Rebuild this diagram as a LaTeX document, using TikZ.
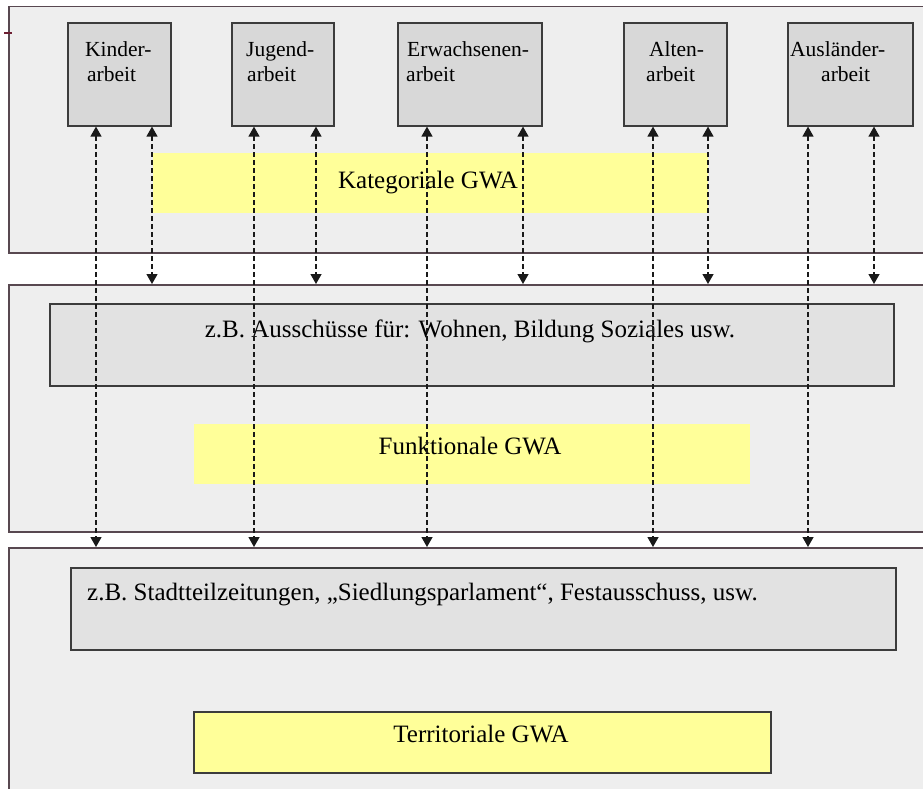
\documentclass[tikz,border=0pt]{standalone}
\usepackage{fontspec}
\setmainfont{Liberation Serif}
\usetikzlibrary{arrows.meta}
\definecolor{framefill}{RGB}{238,238,238}
\definecolor{framedraw}{RGB}{88,72,80}
\definecolor{topfill}{RGB}{216,216,216}
\definecolor{midfill}{RGB}{226,226,226}
\definecolor{yel}{RGB}{255,255,153}
\definecolor{boxdraw}{RGB}{60,60,60}
\definecolor{tickred}{RGB}{110,30,50}
\tikzset{
  frame/.style={draw=framedraw, fill=framefill, line width=1.5pt, rectangle, anchor=north west, inner sep=0pt},
  catbox/.style={draw=boxdraw, fill=topfill, line width=1.6pt, rectangle, anchor=north west, inner sep=0pt},
  graybox/.style={draw=boxdraw, fill=midfill, line width=1.6pt, rectangle, anchor=north west, inner sep=0pt},
  yelbox/.style={fill=yel, rectangle, anchor=north west, inner sep=0pt},
  yelboxd/.style={draw=boxdraw, fill=yel, line width=1.6pt, rectangle, anchor=north west, inner sep=0pt},
  smalltxt/.style={font=\fontsize{21.5}{25}\selectfont, inner sep=0pt, anchor=base west},
  bigtxt/.style={font=\fontsize{25}{30}\selectfont, inner sep=0pt, anchor=base},
  arr/.style={draw=black!90, line width=1.3pt, dash pattern=on 4.5pt off 3.5pt,
    {Triangle[width=11pt,length=10pt]}-{Triangle[width=11pt,length=10pt]}}
}
\begin{document}
\begin{tikzpicture}[x=1pt,y=-1pt]
\clip (0,0) rectangle (923,789);
\fill[white] (0,0) rectangle (923,789);
% frames
\node[frame, minimum width=940pt, minimum height=246pt] (frame1) at (8,6) {};
\node[frame, minimum width=940pt, minimum height=247pt] (frame2) at (8,284) {};
\node[frame, minimum width=940pt, minimum height=280pt] (frame3) at (8,547) {};
\draw[tickred, line width=1.2pt] (4,33) -- (12,33);
% top category boxes
\node[catbox, minimum width=103pt, minimum height=103pt] (kinder) at (67,22) {};
\node[catbox, minimum width=102pt, minimum height=103pt] (jugend) at (231,22) {};
\node[catbox, minimum width=144pt, minimum height=103pt] (erw) at (397,22) {};
\node[catbox, minimum width=103pt, minimum height=103pt] (alten) at (623,22) {};
\node[catbox, minimum width=125pt, minimum height=103pt] (ausl) at (787,22) {};
\node[smalltxt] (kt1) at (85,57) {Kinder-};
\node[smalltxt] (kt2) at (87,82) {arbeit};
\node[smalltxt] (jt1) at (246,57) {Jugend-};
\node[smalltxt] (jt2) at (247,82) {arbeit};
\node[smalltxt] (et1) at (407,57) {Erwachsenen-};
\node[smalltxt] (et2) at (406,82) {arbeit};
\node[smalltxt] (at1) at (649,57) {Alten-};
\node[smalltxt] (at2) at (646,82) {arbeit};
\node[smalltxt] (ut1) at (790,57) {Ausländer-};
\node[smalltxt] (ut2) at (821,82) {arbeit};
% yellow / gray boxes
\node[yelbox, minimum width=555pt, minimum height=60pt] (kat) at (153,153) {};
\node[bigtxt] (katt) at (428,188) {Kategoriale GWA};
\node[graybox, minimum width=844pt, minimum height=82pt] (aus) at (49,303) {};
\node[bigtxt] (aust) at (470,337) {z.B. Ausschüsse für: Wohnen, Bildung Soziales usw.};
\node[yelbox, minimum width=556pt, minimum height=60pt] (fun) at (194,424) {};
\node[bigtxt] (funt) at (470,454) {Funktionale GWA};
\node[graybox, minimum width=825pt, minimum height=82pt] (sta) at (70,567) {};
\node[bigtxt, anchor=base west] (stat) at (87,600) {z.B. Stadtteilzeitungen, „Siedlungsparlament“, Festausschuss, usw.};
\node[yelboxd, minimum width=577pt, minimum height=61pt] (ter) at (193,711) {};
\node[bigtxt] (tert) at (481,742) {Territoriale GWA};
% connectors
\coordinate (k1) at ([xshift=29pt]kinder.south west);
\coordinate (k2) at ([xshift=85pt]kinder.south west);
\coordinate (j1) at ([xshift=23pt]jugend.south west);
\coordinate (j2) at ([xshift=85pt]jugend.south west);
\coordinate (e1) at ([xshift=30pt]erw.south west);
\coordinate (e2) at ([xshift=126pt]erw.south west);
\coordinate (a1) at ([xshift=30pt]alten.south west);
\coordinate (a2) at ([xshift=85pt]alten.south west);
\coordinate (u1) at ([xshift=21pt]ausl.south west);
\coordinate (u2) at ([xshift=87pt]ausl.south west);
\foreach \c in {k1,j1,e1,a1,u1} {
  \draw[arr] (\c) -- (\c |- frame3.north);
}
\foreach \c in {k2,j2,e2,a2,u2} {
  \draw[arr] (\c) -- (\c |- frame2.north);
}
\end{tikzpicture}
\end{document}
